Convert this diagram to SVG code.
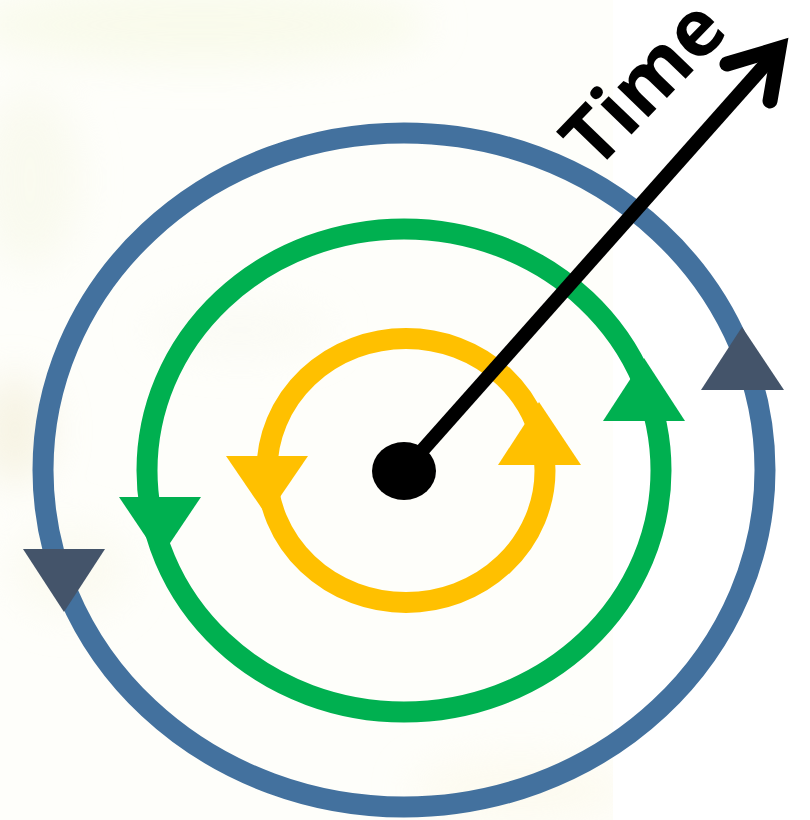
<svg xmlns="http://www.w3.org/2000/svg" width="810" height="820" viewBox="0 0 810 820">
  <defs>
    <filter id="soft" x="-50%" y="-50%" width="200%" height="200%">
      <feGaussianBlur stdDeviation="20"/>
    </filter>
    <clipPath id="bgclip"><rect x="0" y="0" width="613" height="820"/></clipPath>
  </defs>
  <style>
    .ring { fill: none; stroke-width: 21; }
    .blue { stroke: #43719E; }
    .green { stroke: #00B050; }
    .yellow { stroke: #FFC000; }
    .tri-blue { fill: #44546A; }
    .tri-green { fill: #00B050; }
    .tri-yellow { fill: #FFC000; }
    .label { font-family: "Open Sans", "Liberation Sans", sans-serif; font-weight: 700; font-size: 79px; fill: #000000; }
  </style>

  <!-- background -->
  <rect x="0" y="0" width="810" height="820" fill="#FFFFFF"/>
  <g id="background" clip-path="url(#bgclip)">
    <rect x="0" y="0" width="613" height="820" fill="#FEFEFA"/>
    <g filter="url(#soft)" opacity="0.55">
      <ellipse cx="200" cy="25" rx="230" ry="40" fill="#F5F8E0"/>
      <ellipse cx="30" cy="180" rx="50" ry="90" fill="#F6F7E6"/>
      <ellipse cx="15" cy="430" rx="35" ry="55" fill="#F1EBD2"/>
      <ellipse cx="70" cy="570" rx="60" ry="45" fill="#F9F8EA"/>
      <ellipse cx="520" cy="790" rx="110" ry="35" fill="#FCF8E8"/>
      <ellipse cx="240" cy="330" rx="90" ry="25" fill="#F8F8F0"/>
    </g>
  </g>

  <g id="cycle-outer">
    <ellipse class="ring blue" cx="404" cy="470" rx="361" ry="337"/>
    <polygon class="tri-blue" points="701,390 784,390 742,327"/>
    <polygon class="tri-blue" points="23,549 105,549 64,612"/>
  </g>

  <g id="cycle-middle">
    <ellipse class="ring green" cx="404" cy="470.5" rx="257" ry="241.5"/>
    <polygon class="tri-green" points="603,421 685,421 644,358"/>
    <polygon class="tri-green" points="119,497 201,497 160,558"/>
  </g>

  <g id="cycle-inner">
    <ellipse class="ring yellow" cx="406" cy="470.5" rx="139" ry="132"/>
    <polygon class="tri-yellow" points="498,465 581,465 539,402"/>
    <polygon class="tri-yellow" points="226,456 308,456 267,516"/>
  </g>

  <g id="connectors">
    <line x1="404" y1="471" x2="779" y2="49" stroke="#000000" stroke-width="14"/>
    <polyline points="727,64 779,48.5 770,101" fill="none" stroke="#000000" stroke-width="15" stroke-linecap="round" stroke-linejoin="miter" stroke-miterlimit="6"/>
  </g>

  <g id="center-dot">
    <ellipse cx="404" cy="471" rx="32" ry="29" fill="#000000"/>
  </g>

  <g id="time-label">
    <text class="label" transform="translate(595.5,172) rotate(-46)" textLength="194" lengthAdjust="spacingAndGlyphs">Time</text>
  </g>
</svg>
